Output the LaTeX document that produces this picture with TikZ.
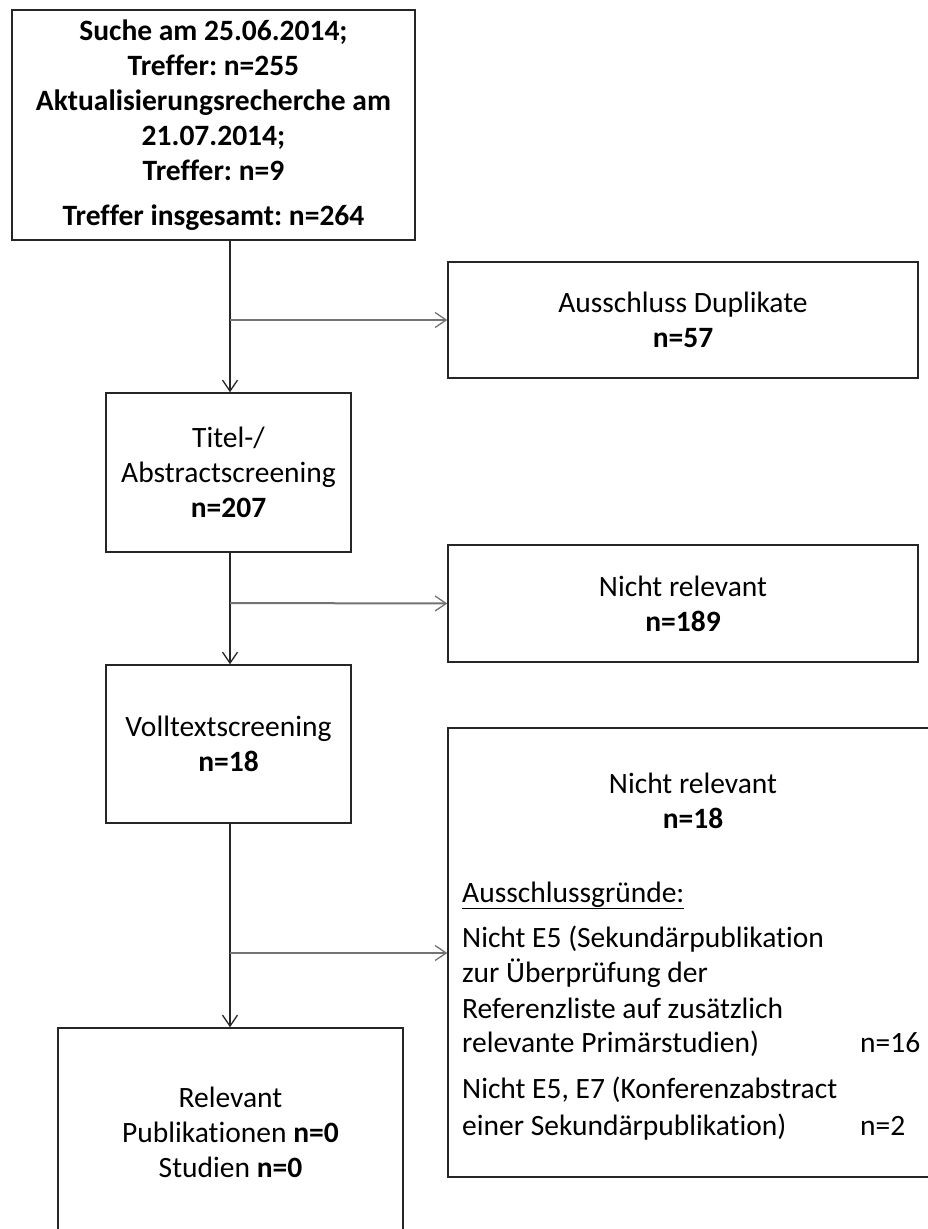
\documentclass[tikz,border=0pt]{standalone}
\usepackage{fontspec}
\setmainfont{Carlito}[Ligatures=NoCommon]
\usetikzlibrary{arrows.meta}
\frenchspacing
\begin{document}
\begin{tikzpicture}[x=1pt,y=-1pt,
  box/.style={draw=black!85,line width=1.5pt,inner sep=0pt,align=center,
    font=\fontsize{29.5}{35}\selectfont\frenchspacing},
  txt/.style={inner sep=0pt,anchor=base west,font=\fontsize{29.5}{35}\selectfont\frenchspacing},
  mainline/.style={draw=black!85,line width=1.5pt,-{Straight Barb[length=11pt,width=15pt,line width=1.3pt]}},
  sideline/.style={draw=black!55,line width=2pt,-{Straight Barb[length=11pt,width=15pt,line width=1.3pt]}}]
\useasboundingbox (0,0) rectangle (928,1229);
\clip (0,0) rectangle (928,1229);
\fill[white] (0,0) rectangle (928,1229);

\node[box,minimum width=403pt,minimum height=230pt] (b1) at (213.5,125)
  {\bfseries Suche am 25.06.2014;\\ \bfseries Treffer: n=255\\ \bfseries Aktualisierungsrecherche am\\ \bfseries 21.07.2014;\\ \bfseries Treffer: n=9\\[10pt] \bfseries Treffer insgesamt: n=264};

\node[box,minimum width=470pt,minimum height=116pt] (dup) at (683,320)
  {Ausschluss Duplikate\\ \textbf{n=57}};

\node[box,minimum width=245pt,minimum height=159pt] (tit) at (228.5,472.5)
  {Titel-/\\ Abstractscreening\\ \textbf{n=207}};

\node[box,minimum width=470pt,minimum height=117pt] (nr1) at (683,603.5)
  {Nicht relevant\\ \textbf{n=189}};

\node[box,minimum width=245pt,minimum height=158pt] (vol) at (228.5,744)
  {Volltextscreening\\ \textbf{n=18}};

\node[box,minimum width=500pt,minimum height=449pt] (nr2) at (698,952.5) {};
\node[box,draw=none,minimum width=0pt,minimum height=0pt] (nr2h) at (693,801) {Nicht relevant\\ \textbf{n=18}};
\node[txt] (grund) at (462,902) {\underline{Ausschlussgründe:}};
\node[txt] (r1a) at (462,947) {Nicht E5 (Sekundärpublikation};
\node[txt] (r1b) at (462,982) {zur Überprüfung der};
\node[txt] (r1c) at (462,1018) {Referenzliste auf zusätzlich};
\node[txt] (r1d) at (462,1052) {relevante Primärstudien)};
\node[txt] (n16) at (860,1052) {n=16};
\node[txt] (r2a) at (462,1098) {Nicht E5, E7 (Konferenzabstract};
\node[txt] (r2b) at (462,1135) {einer Sekundärpublikation)};
\node[txt] (n2) at (860,1135) {n=2};

\node[box,minimum width=345pt,minimum height=208pt] (rel) at (230.5,1132)
  {Relevant\\ Publikationen \textbf{n=0}\\ Studien \textbf{n=0}};

\coordinate (s1) at (230,240);
\coordinate (j1) at (230,320);
\coordinate (j2) at (230,603);
\coordinate (j3) at (230,953);

\draw[mainline] (s1) -- (s1 |- tit.north);
\draw[sideline] (j1) -- (dup.west);
\draw[mainline] (tit.south -| s1) -- (s1 |- vol.north);
\draw[sideline] (j2) -- (nr1.west);
\draw[mainline] (vol.south -| s1) -- (s1 |- rel.north);
\draw[sideline] (j3) -- (j3 -| nr2.west);
\end{tikzpicture}
\end{document}
